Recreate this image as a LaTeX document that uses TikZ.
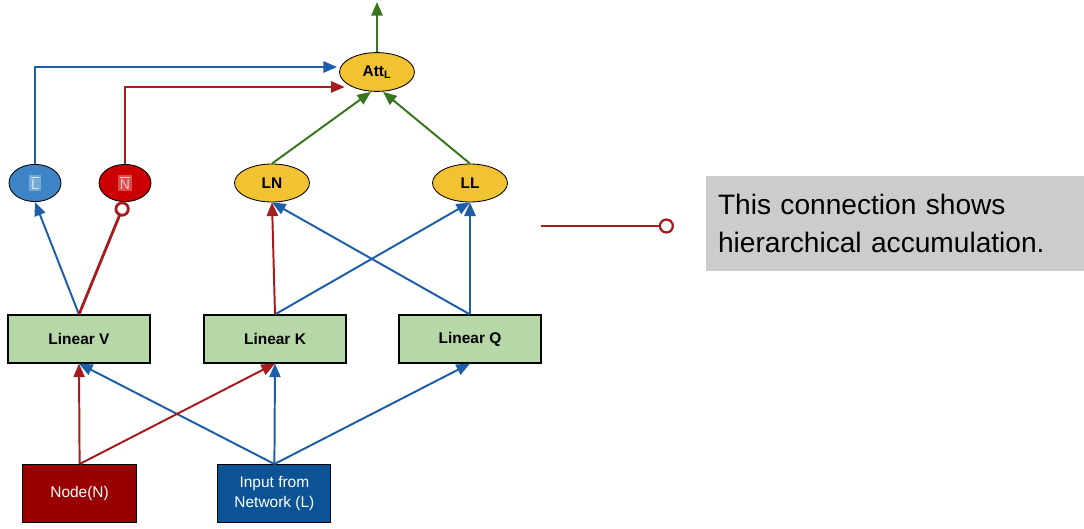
\documentclass[tikz,border=0pt]{standalone}
\usepackage{fontspec}
\setmainfont{Liberation Sans}
\usetikzlibrary{arrows.meta,shapes.geometric}

\definecolor{linfill}{HTML}{B6D7A8}
\definecolor{attfill}{HTML}{F1C232}
\definecolor{nodefill}{HTML}{990000}
\definecolor{netfill}{HTML}{0B5394}
\definecolor{lfill}{HTML}{3D85C6}
\definecolor{nfill}{HTML}{CC0000}
\definecolor{arrblue}{HTML}{1C5EA8}
\definecolor{arrred}{HTML}{A61C1C}
\definecolor{arrgreen}{HTML}{38761D}

\begin{document}
\begin{tikzpicture}[
  >={Triangle[length=3.4mm,width=2.8mm]},
  lin/.style={draw, line width=0.8pt, fill=linfill, minimum width=3.55cm, minimum height=1.2cm, font=\fontsize{11}{13}\selectfont\bfseries},
  src/.style={draw, line width=0.8pt, minimum width=2.85cm, minimum height=1.45cm, align=center, text=white, font=\fontsize{11}{14.5}\selectfont},
  ell/.style={ellipse, draw, line width=0.6pt, inner sep=0pt},
  att/.style={ell, fill=attfill, minimum width=1.875cm, minimum height=0.97cm, font=\fontsize{11}{13}\selectfont\bfseries},
  sml/.style={ell, minimum width=1.3cm, minimum height=0.93cm},
  note/.style={fill=gray!40, minimum width=9.45cm, minimum height=2.375cm, inner sep=0.3cm, text width=8.85cm, align=left, font=\fontsize{20}{27}\selectfont},
  bl/.style={->, draw=arrblue, line width=1.4pt},
  rd/.style={->, draw=arrred, line width=1.4pt},
  gr/.style={->, draw=arrgreen, line width=1.4pt}
]
\useasboundingbox (0,0) rectangle (27.1,-13.225);

% Inputs
\node[src, fill=nodefill] (node) at (1.99,-12.34) {Node(N)};
\node[src, fill=netfill, minimum width=2.825cm] (net) at (6.86,-12.34) {Input from\\Network (L)};

% Linear layers
\node[lin] (linv) at (1.975,-8.475) {Linear V};
\node[lin] (link) at (6.875,-8.475) {Linear K};
\node[lin] (linq) at (11.75,-8.475) {Linear Q};

% Intermediate ellipses
\node[sml, fill=lfill] (lbar) at (0.875,-4.575) {\setlength{\fboxsep}{1.5pt}\colorbox{lfill!70!white}{\fontsize{10}{10}\selectfont\textcolor{white!80!lfill}{$\overline{\mathrm{L}}$}}};
\node[sml, fill=nfill] (nbar) at (3.125,-4.575) {\setlength{\fboxsep}{1.5pt}\colorbox{nfill!70!white}{\fontsize{10}{10}\selectfont\textcolor{white!80!nfill}{$\overline{\mathrm{N}}$}}};
\node[att, minimum height=0.95cm] (ln) at (6.8,-4.575) {LN};
\node[att, minimum height=0.95cm] (ll) at (11.75,-4.575) {LL};

% Attention
\node[att] (att) at (9.425,-1.8) {Att\textsubscript{L}};
\coordinate (out) at (9.425,-0.05);

% Inputs to linear layers
\draw[bl] (net.north) -- (linv.south);
\draw[bl] (net.north) -- (link.south);
\draw[bl] (net.north) -- (linq.south);
\draw[rd] (node.north) -- (linv.south);
\draw[rd] (node.north) -- (link.south);

% Linear layers to ellipses
\draw[bl] (linv.north) -- (lbar.south);
\draw[draw=arrred, line width=2pt, -{Circle[open,length=3.8mm]}] (linv.north) -- (nbar.south);
\draw[bl] (link.north) -- (ll.south);
\draw[bl] (linq.north) -- (ln.south);
\draw[bl] (linq.north) -- (ll.south);
\draw[rd] (link.north) -- (ln.south);

% Into attention
\draw[gr] (ln.north) -- ([xshift=-0.15cm]att.south);
\draw[gr] (ll.north) -- ([xshift=0.15cm]att.south);
\draw[bl] (lbar.north) |- ([xshift=-0.05cm,yshift=0.125cm]att.west);
\draw[rd] (nbar.north) |- ([xshift=0.14cm,yshift=-0.375cm]att.west);
\draw[gr] (att.north) -- (out);

% Legend
\coordinate (legA) at (13.525,-5.65);
\coordinate (legB) at (16.85,-5.65);
\draw[draw=arrred, line width=1.6pt, -{Circle[open,length=3.8mm]}] (legA) -- (legB);
\node[note] (legend) at (22.375,-5.5875) {This connection shows\\hierarchical accumulation.};
\end{tikzpicture}
\end{document}
